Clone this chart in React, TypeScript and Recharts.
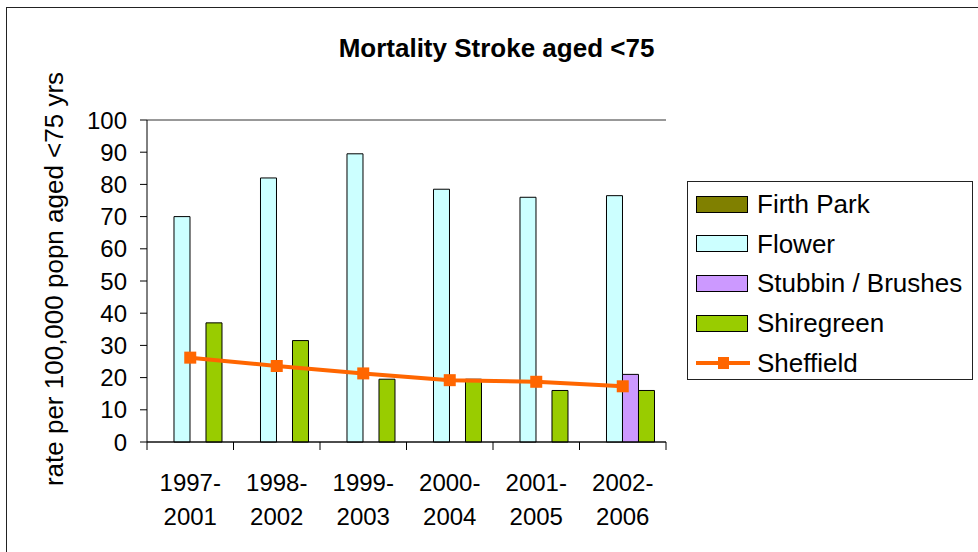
import React from "react";
import {
  ComposedChart,
  Bar,
  Line,
  XAxis,
  YAxis,
  CartesianGrid,
} from "recharts";

const categories = ["1997-2001", "1998-2002", "1999-2003", "2000-2004", "2001-2005", "2002-2006"];
const firthPark: (number | null)[] = [null, null, null, null, null, null];
const flower: (number | null)[] = [70, 82, 89.5, 78.5, 76, 76.5];
const stubbinBrushes: (number | null)[] = [null, null, null, null, null, 21];
const shiregreen: (number | null)[] = [37, 31.5, 19.5, 19.5, 16, 16];
const sheffield: (number | null)[] = [26.2, 23.6, 21.3, 19.2, 18.7, 17.3];
const yTicks = [0, 10, 20, 30, 40, 50, 60, 70, 80, 90, 100];

const TITLE = "Mortality Stroke aged <75";
const Y_LABEL = "rate per 100,000 popn aged <75 yrs";

const FONT = '"Liberation Sans", Arial, Helvetica, sans-serif';

const series = [
  { key: "firthPark", name: "Firth Park", color: "#808000", type: "bar" },
  { key: "flower", name: "Flower", color: "#CCFFFF", type: "bar" },
  { key: "stubbin", name: "Stubbin / Brushes", color: "#CC99FF", type: "bar" },
  { key: "shiregreen", name: "Shiregreen", color: "#99CC00", type: "bar" },
  { key: "sheffield", name: "Sheffield", color: "#FF6600", type: "line" },
];

const data = categories.map((c, i) => ({
  category: c,
  firthPark: firthPark[i],
  flower: flower[i],
  stubbin: stubbinBrushes[i],
  shiregreen: shiregreen[i],
  sheffield: sheffield[i],
}));

const W = 978;
const H = 552;
const MARGIN = { top: 120, right: 312, left: 0, bottom: 50 };
const Y_AXIS_W = 147;
const PLOT_W = W - MARGIN.left - MARGIN.right - Y_AXIS_W;
const BAND = PLOT_W / categories.length;

const XTick = (props: any) => {
  const { x, y, payload, index } = props;
  const label: string = payload.value;
  const parts = label.split("-");
  const half = BAND / 2;
  return (
    <g>
      <line x1={x - half} y1={y - 8} x2={x - half} y2={y} stroke="#000" strokeWidth={1} />
      {index === categories.length - 1 && (
        <line x1={x + half} y1={y - 8} x2={x + half} y2={y} stroke="#000" strokeWidth={1} />
      )}
      <text x={x} y={y + 41} textAnchor="middle" fontSize={24} fontFamily={FONT} fill="#000">
        {parts[0] + "-"}
      </text>
      <text x={x} y={y + 75} textAnchor="middle" fontSize={24} fontFamily={FONT} fill="#000">
        {parts[1]}
      </text>
    </g>
  );
};

const SquareDot = (props: any) => {
  const { cx, cy, index } = props;
  if (cx == null || cy == null) return <g key={index} />;
  return <rect key={index} x={cx - 6} y={cy - 6} width={12} height={12} fill="#FF6600" />;
};

const YLabel = (props: any) => {
  const vb = props.viewBox || { x: 0, y: 0, width: 0, height: 0 };
  const cx = 54;
  const cy = vb.y + vb.height / 2 - 2;
  return (
    <text
      x={cx}
      y={cy}
      transform={`rotate(-90, ${cx}, ${cy})`}
      textAnchor="middle"
      dominantBaseline="central"
      fontSize={26}
      fontFamily={FONT}
      fill="#000"
    >
      {Y_LABEL}
    </text>
  );
};

const LegendBox = () => (
  <div
    style={{
      position: "absolute",
      left: 687,
      top: 181,
      width: 286,
      height: 199,
      border: "1px solid #222",
      boxSizing: "border-box",
      background: "#fff",
      fontFamily: FONT,
      fontSize: 26,
      color: "#000",
    }}
  >
    {series.map((s, i) => (
      <div
        key={s.key}
        style={{
          position: "absolute",
          left: 8,
          top: 2 + i * 39.7,
          height: 40,
          display: "flex",
          alignItems: "center",
          whiteSpace: "nowrap",
        }}
      >
        {s.type === "bar" ? (
          <div
            style={{
              width: 52,
              height: 17,
              background: s.color,
              border: "1px solid #000",
              boxSizing: "border-box",
              marginRight: 9,
            }}
          />
        ) : (
          <svg width={54} height={20} style={{ marginRight: 7 }}>
            <line x1={0} y1={10} x2={54} y2={10} stroke={s.color} strokeWidth={4} />
            <rect x={22} y={4} width={11} height={12} fill={s.color} />
          </svg>
        )}
        <span style={{ lineHeight: "40px" }}>{s.name}</span>
      </div>
    ))}
  </div>
);

export default function App() {
  return (
    <div style={{ position: "absolute", left: 0, top: 0, width: W, height: H, background: "#fff", overflow: "hidden" }}>
      <svg width={W} height={H} style={{ position: "absolute", left: 0, top: 0 }}>
        <line x1={6.5} y1={7} x2={6.5} y2={H} stroke="#222" strokeWidth={1} />
        <line x1={6} y1={7.5} x2={W} y2={7.5} stroke="#222" strokeWidth={1} />
        <text
          x={496.5}
          y={57}
          textAnchor="middle"
          fontSize={26}
          fontWeight="bold"
          fontFamily={FONT}
          fill="#000"
        >
          {TITLE}
        </text>
      </svg>
      <div style={{ position: "absolute", left: 0, top: 0 }}>
        <ComposedChart
          width={W}
          height={H}
          data={data}
          margin={MARGIN}
          barCategoryGap="12.7%"
          barGap={0}
        >
          <CartesianGrid horizontal={true} vertical={false} stroke="#333" strokeWidth={1} />
          <XAxis
            dataKey="category"
            height={60}
            tickSize={8}
            tickMargin={0}
            tickLine={false}
            axisLine={{ stroke: "#000", strokeWidth: 1 }}
            tick={<XTick />}
            interval={0}
          />
          <YAxis
            yAxisId="left"
            width={Y_AXIS_W}
            domain={[0, 100]}
            ticks={yTicks}
            interval={0}
            tickSize={7}
            tickMargin={13}
            axisLine={{ stroke: "#000", strokeWidth: 1 }}
            tickLine={{ stroke: "#000", strokeWidth: 1 }}
            tick={{ fontSize: 24, fontFamily: FONT, fill: "#000" }}
            label={<YLabel />}
          />
          <YAxis
            yAxisId="right"
            orientation="right"
            width={0}
            domain={[0, 100]}
            tick={false}
            tickLine={false}
            axisLine={{ stroke: "#808080", strokeWidth: 1 }}
          />
          {series
            .filter((s) => s.type === "bar")
            .map((s) => (
              <Bar
                key={s.key}
                yAxisId="left"
                dataKey={s.key}
                name={s.name}
                fill={s.color}
                stroke="#000"
                strokeWidth={1}
                isAnimationActive={false}
              />
            ))}
          <Line
            yAxisId="left"
            dataKey="sheffield"
            name="Sheffield"
            stroke="#FF6600"
            strokeWidth={4}
            dot={<SquareDot />}
            activeDot={false}
            isAnimationActive={false}
          />
        </ComposedChart>
      </div>
      <LegendBox />
    </div>
  );
}
